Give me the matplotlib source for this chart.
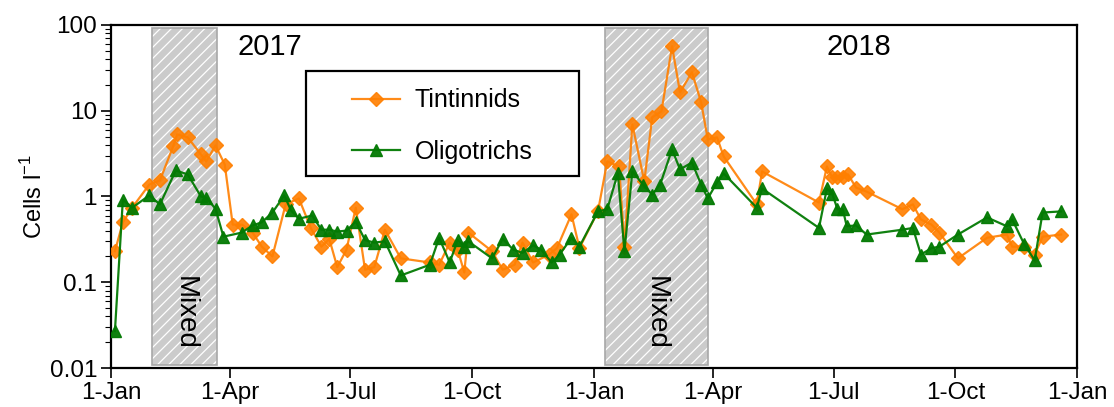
import matplotlib
matplotlib.use("Agg")
import matplotlib.pyplot as plt
import matplotlib.dates as mdates
import matplotlib.transforms as mtransforms
from matplotlib.patches import Rectangle
import numpy as np
import pandas as pd

plt.rcParams["font.family"] = ["Liberation Sans", "DejaVu Sans"]
plt.rcParams["hatch.linewidth"] = 0.9

# Tintinnid abundance (cells per litre)
tin_dates = [
    "2017-01-04", "2017-01-10", "2017-01-17", "2017-01-30", "2017-02-07",
    "2017-02-17", "2017-02-20", "2017-02-28", "2017-03-10", "2017-03-14",
    "2017-03-21", "2017-03-28", "2017-04-03", "2017-04-10", "2017-04-18",
    "2017-04-25", "2017-05-03", "2017-05-13", "2017-05-23", "2017-06-01",
    "2017-06-09", "2017-06-15", "2017-06-21", "2017-06-28", "2017-07-05",
    "2017-07-12", "2017-07-19", "2017-07-27", "2017-08-08", "2017-08-30",
    "2017-09-06", "2017-09-14", "2017-09-20", "2017-09-25", "2017-09-28",
    "2017-10-16", "2017-10-24", "2017-11-02", "2017-11-08", "2017-11-16",
    "2017-11-28", "2017-12-04", "2017-12-15", "2017-12-21", "2018-01-04",
    "2018-01-11", "2018-01-20", "2018-01-24", "2018-01-30", "2018-02-08",
    "2018-02-14", "2018-02-21", "2018-03-01", "2018-03-07", "2018-03-16",
    "2018-03-23", "2018-03-28", "2018-04-04", "2018-04-09", "2018-05-04",
    "2018-05-08", "2018-06-20", "2018-06-26", "2018-06-30", "2018-07-04",
    "2018-07-08", "2018-07-12", "2018-07-18", "2018-07-26", "2018-08-22",
    "2018-08-30", "2018-09-05", "2018-09-13", "2018-09-19", "2018-10-03",
    "2018-10-25", "2018-11-09", "2018-11-13", "2018-11-22", "2018-11-30",
    "2018-12-06", "2018-12-20",
]
tin_values = [
    0.23, 0.50, 0.74, 1.38, 1.54,
    3.84, 5.30, 4.89, 3.09, 2.56,
    3.94, 2.36, 0.47, 0.47, 0.38,
    0.26, 0.20, 0.81, 0.95, 0.43,
    0.26, 0.32, 0.15, 0.24, 0.74,
    0.14, 0.15, 0.41, 0.19, 0.17,
    0.16, 0.29, 0.24, 0.13, 0.38,
    0.23, 0.14, 0.16, 0.29, 0.17,
    0.21, 0.25, 0.62, 0.25, 0.67,
    2.56, 2.24, 0.26, 6.93, 1.50,
    8.37, 9.84, 56.5, 16.4, 28.1,
    12.5, 4.63, 4.89, 2.93, 0.81,
    1.96, 0.85, 2.24, 1.67, 1.67,
    1.71, 1.81, 1.27, 1.14, 0.71,
    0.81, 0.54, 0.47, 0.38, 0.19,
    0.33, 0.36, 0.26, 0.26, 0.21,
    0.34, 0.36,
]

# Oligotrich abundance (cells per litre)
oli_dates = [
    "2017-01-04", "2017-01-10", "2017-01-17", "2017-01-30", "2017-02-07",
    "2017-02-19", "2017-02-28", "2017-03-10", "2017-03-14", "2017-03-21",
    "2017-03-27", "2017-04-10", "2017-04-18", "2017-04-25", "2017-05-03",
    "2017-05-12", "2017-05-17", "2017-05-23", "2017-06-02", "2017-06-09",
    "2017-06-15", "2017-06-21", "2017-06-28", "2017-07-05", "2017-07-12",
    "2017-07-19", "2017-07-27", "2017-08-08", "2017-08-30", "2017-09-06",
    "2017-09-14", "2017-09-20", "2017-09-25", "2017-09-28", "2017-10-16",
    "2017-10-24", "2017-11-01", "2017-11-08", "2017-11-16", "2017-11-22",
    "2017-11-30", "2017-12-06", "2017-12-15", "2017-12-21", "2018-01-04",
    "2018-01-11", "2018-01-19", "2018-01-24", "2018-01-30", "2018-02-07",
    "2018-02-14", "2018-02-20", "2018-03-01", "2018-03-07", "2018-03-16",
    "2018-03-23", "2018-03-28", "2018-04-04", "2018-04-09", "2018-05-04",
    "2018-05-08", "2018-06-20", "2018-06-26", "2018-06-30", "2018-07-04",
    "2018-07-08", "2018-07-11", "2018-07-18", "2018-07-26", "2018-08-22",
    "2018-08-30", "2018-09-05", "2018-09-13", "2018-09-19", "2018-10-03",
    "2018-10-25", "2018-11-09", "2018-11-13", "2018-11-22", "2018-11-30",
    "2018-12-06", "2018-12-20",
]
oli_values = [
    0.027, 0.92, 0.74, 1.03, 0.81,
    2.01, 1.81, 1.00, 0.97, 0.72,
    0.34, 0.38, 0.46, 0.50, 0.65,
    1.03, 0.69, 0.55, 0.60, 0.41,
    0.41, 0.39, 0.40, 0.51, 0.31,
    0.29, 0.30, 0.12, 0.16, 0.33,
    0.17, 0.31, 0.26, 0.30, 0.19,
    0.32, 0.24, 0.22, 0.27, 0.24,
    0.17, 0.21, 0.33, 0.26, 0.67,
    0.71, 1.86, 0.23, 1.96, 1.38,
    1.05, 1.38, 3.54, 2.07, 2.49,
    1.38, 0.95, 1.46, 1.86, 0.74,
    1.24, 0.43, 1.24, 1.08, 0.71,
    0.71, 0.45, 0.46, 0.36, 0.41,
    0.43, 0.21, 0.25, 0.26, 0.36,
    0.57, 0.45, 0.54, 0.28, 0.18,
    0.65, 0.67,
]

# Periods of a mixed water column
mixed_periods = [("2017-02-01", "2017-03-22"), ("2018-01-09", "2018-03-28")]
year_labels = [("2017", "2017-05-01"), ("2018", "2018-07-20")]

tick_dates = ["2017-01-01", "2017-04-01", "2017-07-01", "2017-10-01",
              "2018-01-01", "2018-04-01", "2018-07-01", "2018-10-01",
              "2019-01-01"]
tick_labels = ["1-Jan", "1-Apr", "1-Jul", "1-Oct",
               "1-Jan", "1-Apr", "1-Jul", "1-Oct", "1-Jan"]

orange = "#ff7f00"
green = "#037a03"

fig = plt.figure(figsize=(11.14, 4.07), dpi=100)
ax = fig.add_axes([0.0996, 0.0958, 0.8672, 0.8428])
ax.set_yscale("log")
ax.set_ylim(0.01, 100)
ax.set_xlim(pd.Timestamp("2017-01-01"), pd.Timestamp("2019-01-01"))

blend = mtransforms.blended_transform_factory(ax.transData, ax.transAxes)
for start, end in mixed_periods:
    x0 = mdates.date2num(pd.Timestamp(start))
    x1 = mdates.date2num(pd.Timestamp(end))
    ax.add_patch(Rectangle((x0, 0.009), x1 - x0, 0.982, transform=blend,
                           facecolor="#cbcbcb", edgecolor="white",
                           hatch="///", linewidth=0, zorder=1))
    ax.add_patch(Rectangle((x0, 0.009), x1 - x0, 0.982, transform=blend,
                           facecolor="none", edgecolor="#a8a8a8",
                           linewidth=1.2, zorder=1.1))
    ax.text((x0 + x1) / 2, 0.16, "Mixed", transform=blend, rotation=-90,
            ha="center", va="center", fontsize=20, zorder=2)

for label, date in year_labels:
    ax.text(mdates.date2num(pd.Timestamp(date)), 0.935, label, transform=blend,
            ha="center", va="center", fontsize=21)

ax.plot(pd.to_datetime(tin_dates), tin_values, color=orange, marker="D",
        markersize=7, linewidth=1.6, alpha=0.9, label="Tintinnids", zorder=3)
ax.plot(pd.to_datetime(oli_dates), oli_values, color=green, marker="^",
        markersize=9, linewidth=1.6, alpha=0.95, label="Oligotrichs", zorder=4)

ax.set_xticks(pd.to_datetime(tick_dates))
ax.set_xticklabels(tick_labels)
ax.set_yticks([0.01, 0.1, 1, 10, 100])
ax.set_yticklabels(["0.01", "0.1", "1", "10", "100"])
ax.tick_params(axis="both", which="major", labelsize=17.5, direction="out",
               length=7, width=1.2, pad=3)
ax.tick_params(axis="y", which="minor", direction="out", length=4, width=0.8)
ax.tick_params(axis="x", which="minor", bottom=False)
for s in ax.spines.values():
    s.set_linewidth(1.6)

ax.set_ylabel("Cells l$^{\\mathregular{-1}}$", fontsize=17, labelpad=2)

# legend in a framed box
ax.add_patch(Rectangle((0.202, 0.56), 0.283, 0.306, transform=ax.transAxes,
                       facecolor="white", edgecolor="black", linewidth=1.6,
                       zorder=5))
leg = ax.legend(loc="upper left", bbox_to_anchor=(0.25, 0.815), frameon=False,
                fontsize=18, handlelength=1.9, labelspacing=1.1,
                handletextpad=0.6, borderaxespad=0, borderpad=0)
leg.set_zorder(6)

fig.savefig("out.png", dpi=100)
